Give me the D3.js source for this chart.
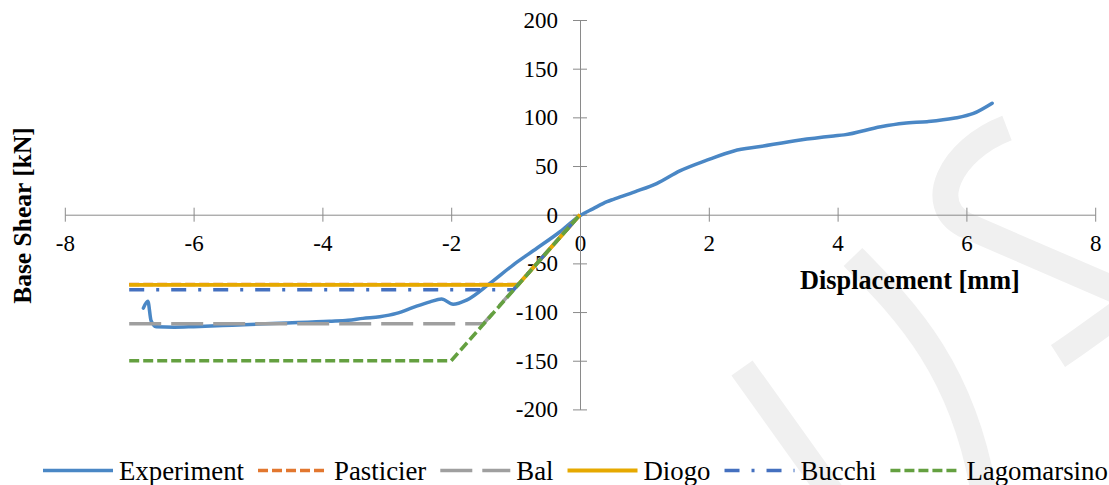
<!DOCTYPE html>
<html><head><meta charset="utf-8">
<script src="https://cdn.jsdelivr.net/npm/d3@7"></script>
<style>
html,body{margin:0;padding:0;background:#fff;}
svg{display:block;}
svg text{font-family:"Liberation Serif",serif !important;}
</style>
</head><body>
<svg id="chart" width="1109" height="485"></svg>
<script>
// ---- data ----
const xTicks = [-8, -6, -4, -2, 0, 2, 4, 6, 8];
const yTicks = [-200, -150, -100, -50, 0, 50, 100, 150, 200];
const seriesNames = ["Experiment", "Pasticier", "Bal", "Diogo", "Bucchi", "Lagomarsino"];

const experimentX = [-6.78, -6.71, -6.66, -6.58, -6.3, -6.0, -5.4, -4.67, -3.89, -3.6, -3.37, -3.11, -2.85, -2.59, -2.33, -2.15, -1.97, -1.76, -1.4, -1.04, -0.67, -0.31, 0, 0.2, 0.42, 0.52, 0.85, 1.19, 1.55, 1.97, 2.39, 2.8, 3.42, 3.94, 4.1, 4.67, 5.03, 5.39, 5.8, 6.11, 6.4];
const experimentY = [-96, -89, -109, -115, -115.5, -115, -113.5, -111.5, -109.5, -108.5, -106.5, -104.8, -101.4, -95.2, -89.5, -86.6, -92, -87.7, -70.5, -51.7, -34.5, -17.5, -1, 6, 13.4, 15.8, 23.5, 32, 45, 56, 65.5, 70, 76.8, 80.9, 82, 90.4, 94, 95.6, 99, 104, 114.5];

const pasticierX = [-7, -0.96, 0];
const pasticierY = [-71.6, -71.6, 0];
const balX = [-7, -1.5, 0];
const balY = [-112, -112, 0];
const diogoX = [-7, -0.96, 0];
const diogoY = [-72, -72, 0];
const bucchiX = [-7, -1.03, 0];
const bucchiY = [-77, -77, 0];
const lagomarsinoX = [-7, -2, 0];
const lagomarsinoY = [-150, -150, 0];

// ---- styles ----
const FONT = "'Liberation Serif', serif";
const styles = {
  Experiment:  {color: "#4a87c5", width: 3.5, dash: null},
  Pasticier:   {color: "#e2772f", width: 3.5, dash: "10,4"},
  Bal:         {color: "#9f9f9f", width: 3.5, dash: "32,10"},
  Diogo:       {color: "#e6a900", width: 3.8, dash: null},
  Bucchi:      {color: "#4470bf", width: 3.5, dash: "15,12,3,12"},
  Lagomarsino: {color: "#64a040", width: 3.5, dash: "10,4"}
};
const seriesData = {
  Experiment: [experimentX, experimentY],
  Pasticier: [pasticierX, pasticierY],
  Bal: [balX, balY],
  Diogo: [diogoX, diogoY],
  Bucchi: [bucchiX, bucchiY],
  Lagomarsino: [lagomarsinoX, lagomarsinoY]
};

const svg = d3.select("#chart");

// faint background watermark (decorative)
const wm = svg.append("g").attr("fill", "none").attr("stroke", "#f0f0f0").attr("stroke-width", 26);
wm.append("path").attr("d", "M742,368 L845,512");
wm.append("path").attr("d", "M853,257 C905,310 965,370 985,500");
wm.append("path").attr("d", "M1007,128 C950,150 925,205 965,225 L1120,292");
wm.append("path").attr("d", "M1120,312 C1095,330 1075,345 1058,356");

const x = d3.scaleLinear().domain([-8, 8]).range([64.8, 1095.2]);
const y = d3.scaleLinear().domain([-200, 200]).range([409.4, 20]);
const axisColor = "#8a8a8a";
const fmt = d => d < 0 ? "-" + Math.abs(d) : String(d);

// x axis through y=0
const gx = svg.append("g").attr("transform", `translate(0,${y(0)})`)
  .call(d3.axisBottom(x).tickValues(xTicks).tickSize(7).tickSizeOuter(0).tickPadding(13).tickFormat(fmt));
gx.attr("font-family", FONT).attr("font-size", 23);
gx.select(".domain").attr("stroke", axisColor);
gx.selectAll(".tick line").attr("stroke", axisColor).attr("y1", -7);
gx.selectAll(".tick text").attr("fill", "#000").style("font-family", FONT).style("font-size", "23px");

// y axis through x=0
const gy = svg.append("g").attr("transform", `translate(${x(0)},0)`)
  .call(d3.axisLeft(y).tickValues(yTicks).tickSize(7).tickSizeOuter(0).tickPadding(15).tickFormat(fmt));
gy.attr("font-family", FONT).attr("font-size", 23);
gy.select(".domain").attr("stroke", axisColor);
gy.selectAll(".tick line").attr("stroke", axisColor).attr("x1", 7);
gy.selectAll(".tick text").attr("fill", "#000").style("font-family", FONT).style("font-size", "23px");

// series
const line = d3.line().x(d => x(d[0])).y(d => y(d[1]));
seriesNames.forEach(name => {
  const [xs, ys] = seriesData[name];
  const pts = xs.map((v, i) => [v, ys[i]]);
  const st = styles[name];
  const gen = name === "Experiment" ? line.curve(d3.curveMonotoneX) : line.curve(d3.curveLinear);
  svg.append("path").datum(pts)
    .attr("fill", "none").attr("stroke", st.color).attr("stroke-width", st.width)
    .attr("stroke-dasharray", st.dash).attr("stroke-linejoin", "round")
    .attr("stroke-linecap", name === "Experiment" ? "round" : "butt")
    .attr("d", gen);
});

// axis titles
svg.append("text").attr("transform", "translate(31,215.5) rotate(-90)")
  .attr("text-anchor", "middle").style("font-family", FONT).style("font-weight", "bold").style("font-size", "25.5px")
  .text("Base Shear [kN]");
svg.append("text").attr("x", 800).attr("y", 289)
  .style("font-family", FONT).style("font-weight", "bold").style("font-size", "26.3px")
  .text("Displacement [mm]");

// legend
const lg = svg.append("g");
let cx = 43;
const ly = 470.5, lty = 479.5;
seriesNames.forEach(name => {
  const st = styles[name];
  lg.append("line").attr("x1", cx).attr("x2", cx + 70).attr("y1", ly).attr("y2", ly)
    .attr("stroke", st.color).attr("stroke-width", st.width).attr("stroke-dasharray", st.dash);
  const t = lg.append("text").attr("x", cx + 76).attr("y", lty)
    .style("font-family", FONT).style("font-size", "26.8px").text(name);
  cx = cx + 76 + t.node().getComputedTextLength() + 14;
});
</script>
</body></html>
